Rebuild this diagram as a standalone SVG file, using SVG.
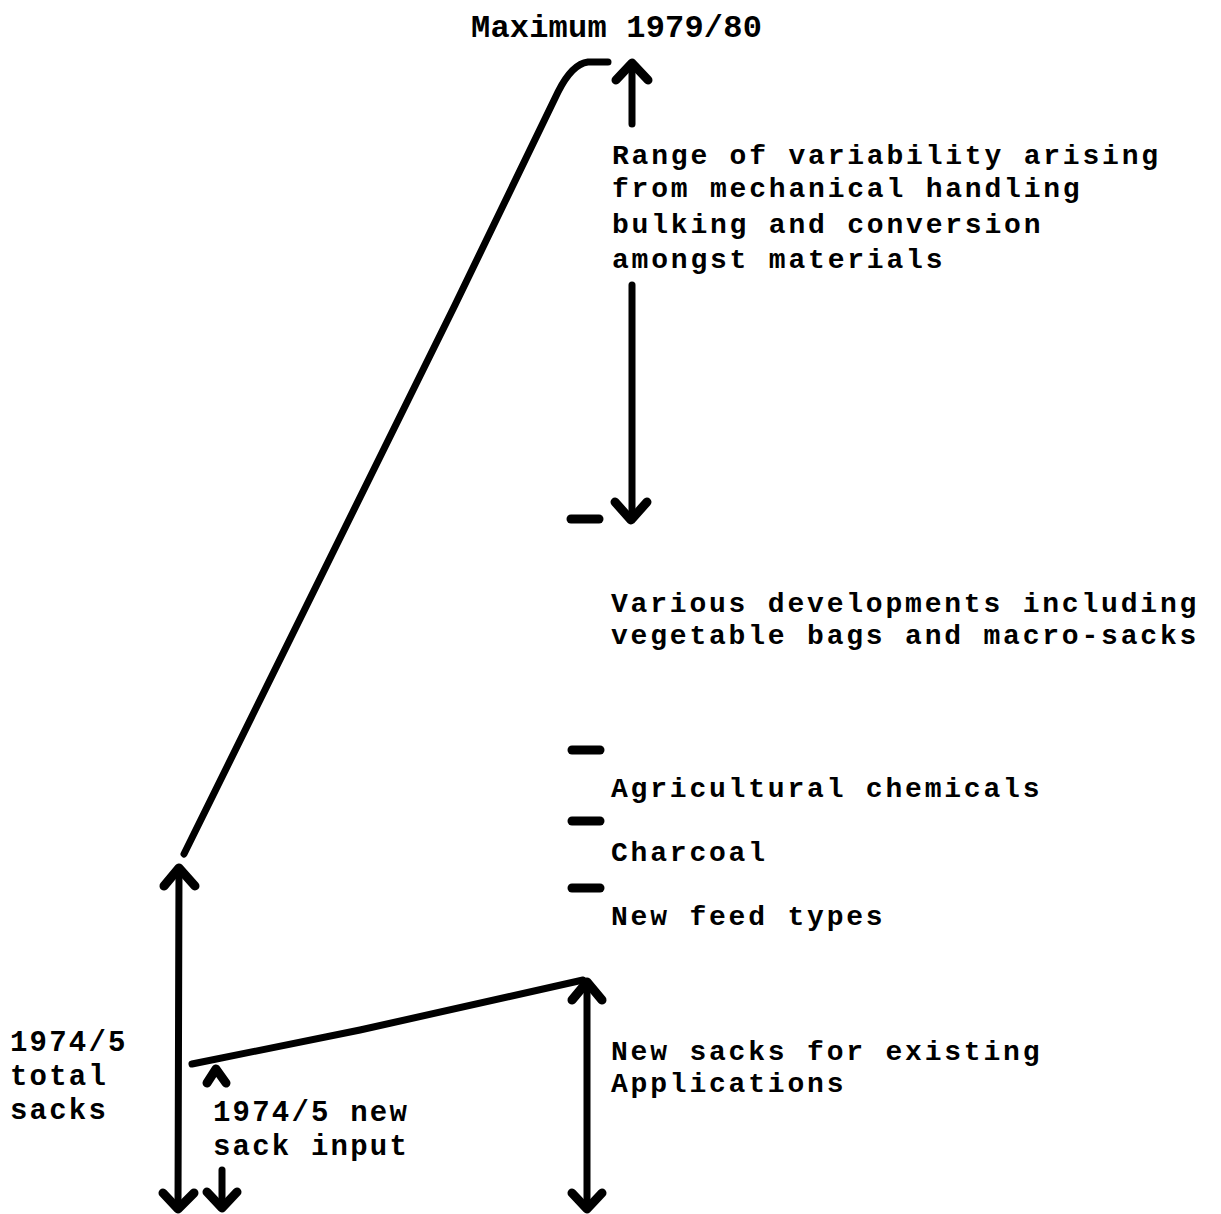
<svg xmlns="http://www.w3.org/2000/svg" width="1221" height="1214" viewBox="0 0 1221 1214">
<style>
  .t { font-family: "Liberation Mono", "DejaVu Sans Mono", monospace; font-weight: bold; font-size: 28px; letter-spacing: 2.8px; fill: #000; }
  .big { font-size: 29px; letter-spacing: 2.2px; }
  .max { font-size: 32px; letter-spacing: 0.2px; }
  .ln { stroke: #000; stroke-width: 7; fill: none; stroke-linecap: round; stroke-linejoin: round; }
  .hd { stroke: #000; stroke-width: 9; fill: none; stroke-linecap: round; stroke-linejoin: round; }
  .dash { stroke: #000; stroke-width: 9; stroke-linecap: round; }
</style>
<rect width="1221" height="1214" fill="#fff"/>

<g id="connectors">
  <path class="ln" d="M 184 854 L 455 305 Q 520 170 558 92 Q 572 64 588 62 L 608 62"/>
  <line class="ln" x1="632" y1="124" x2="632" y2="64"/>
  <polyline class="hd" points="616,80 632,63 648,80"/>
  <line class="ln" x1="632" y1="285" x2="632" y2="518"/>
  <polyline class="hd" points="615,502 631,520 647,502"/>
  <line class="dash" x1="571" y1="519" x2="599" y2="519"/>
  <line class="dash" x1="572" y1="750" x2="600" y2="750"/>
  <line class="dash" x1="572" y1="821" x2="600" y2="821"/>
  <line class="dash" x1="572" y1="888" x2="600" y2="888"/>
  <line class="ln" x1="179" y1="870" x2="178" y2="1208"/>
  <polyline class="hd" points="164,886 179,868 195,886"/>
  <polyline class="hd" points="163,1193 178,1209 194,1193"/>
  <path class="ln" d="M 192 1064 L 360 1030 L 583 980"/>
  <polyline class="hd" points="207,1083 216,1069 226,1083"/>
  <line class="ln" x1="222" y1="1170" x2="222" y2="1208"/>
  <polyline class="hd" points="207,1192 222,1208 237,1192"/>
  <line class="ln" x1="587" y1="982" x2="587" y2="1208"/>
  <polyline class="hd" points="572,1000 587,982 602,1000"/>
  <polyline class="hd" points="572,1193 587,1209 602,1193"/>
</g>

<g id="maximum">
  <text class="t max" x="471" y="37">Maximum 1979/80</text>
</g>
<g id="range">
  <text class="t" x="612" y="164">Range of variability arising</text>
  <text class="t" x="612" y="197">from mechanical handling</text>
  <text class="t" x="612" y="233">bulking and conversion</text>
  <text class="t" x="612" y="268">amongst materials</text>
</g>
<g id="various">
  <text class="t" x="611" y="612">Various developments including</text>
  <text class="t" x="611" y="644">vegetable bags and macro-sacks</text>
</g>
<g id="agricultural">
  <text class="t" x="611" y="797">Agricultural chemicals</text>
</g>
<g id="charcoal">
  <text class="t" x="611" y="861">Charcoal</text>
</g>
<g id="feed">
  <text class="t" x="611" y="925">New feed types</text>
</g>
<g id="existing">
  <text class="t" x="611" y="1060">New sacks for existing</text>
  <text class="t" x="611" y="1092">Applications</text>
</g>
<g id="total">
  <text class="t big" x="10" y="1051">1974/5</text>
  <text class="t big" x="10" y="1085">total</text>
  <text class="t big" x="10" y="1119">sacks</text>
</g>
<g id="input">
  <text class="t big" x="213" y="1121">1974/5 new</text>
  <text class="t big" x="213" y="1155">sack input</text>
</g>
</svg>
